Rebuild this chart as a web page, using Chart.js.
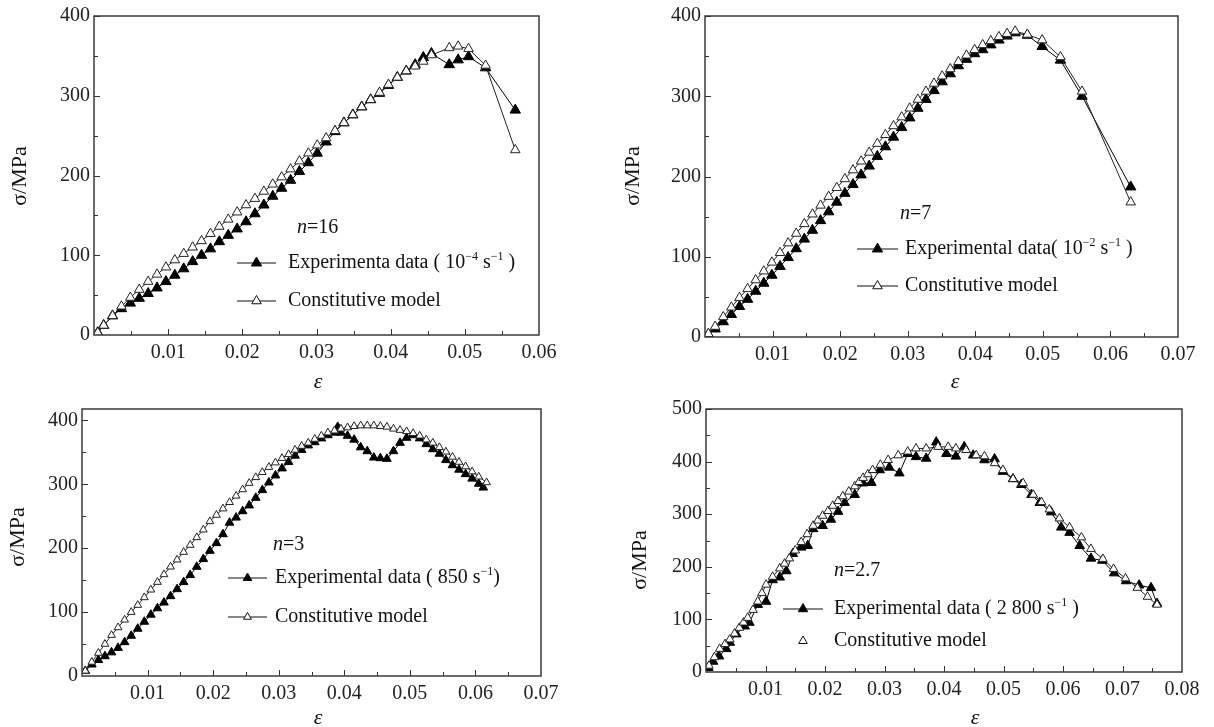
<!DOCTYPE html>
<html>
<head>
<meta charset="utf-8">
<script src="https://cdn.jsdelivr.net/npm/chart.js@4.4.1/dist/chart.umd.min.js"></script>
<style>
  html, body { margin: 0; padding: 0; background: #fff; }
  #wrap { position: relative; width: 1214px; height: 727px; overflow: hidden; }
  .panel { position: absolute; }
</style>
</head>
<body>
<div id="wrap">
  <div class="panel" style="left:0;top:0;width:607px;height:393px"><canvas id="c1"></canvas></div>
  <div class="panel" style="left:607px;top:0;width:607px;height:393px"><canvas id="c2"></canvas></div>
  <div class="panel" style="left:0;top:393px;width:607px;height:334px"><canvas id="c3"></canvas></div>
  <div class="panel" style="left:607px;top:393px;width:607px;height:334px"><canvas id="c4"></canvas></div>
</div>
<script>
// panel 1: n=16, 10^-4 s^-1
const p1Strain = [0.0005,0.0013,0.0025,0.0037,0.0049,0.0061,0.0073,0.0085,0.0097,0.0109,
  0.0121,0.0133,0.0145,0.0157,0.0169,0.0181,0.0193,0.0205,0.0217,0.0229,
  0.0241,0.0253,0.0265,0.0277,0.0289,0.0301,0.0313,0.0325,0.0337,0.0349,
  0.0361,0.0373,0.0385,0.0397,0.0409,0.0421,0.0433,0.0444,0.0455,0.0479,
  0.0491,0.0505,0.0528,0.0568];
const p1Exp = [3,12,24,33,40,46,52,59,67,75, 83,92,100,108,117,125,133,142,152,163,
  174,184,194,205,216,228,242,255,266,276, 286,295,303,313,323,331,339,348,353,339,
  345,349,335,282];
const p1Model = [3,12,24,36,47,57,67,76,85,94, 102,110,118,127,136,145,154,163,171,180,
  189,198,208,218,228,238,247,256,266,276, 286,295,304,314,323,331,337,343,351,360,
  362,359,338,232];

// panel 2: n=7, 10^-2 s^-1
const p2Strain = [0.0005,0.0015,0.0027,0.0039,0.0051,0.0063,0.0075,0.0087,0.0099,0.0111,
  0.0123,0.0135,0.0147,0.0159,0.0171,0.0183,0.0195,0.0207,0.0219,0.0231,
  0.0243,0.0255,0.0267,0.0279,0.0291,0.0303,0.0315,0.0327,0.0339,0.0351,
  0.0363,0.0375,0.0387,0.0399,0.0411,0.0423,0.0435,0.0447,0.0459,0.0477,
  0.0499,0.0526,0.0558,0.063];
const p2Exp = [3,10,19,28,38,47,57,67,77,88, 99,110,122,133,145,156,168,179,190,202,
  213,225,237,249,261,273,285,296,307,318, 328,338,346,353,358,364,370,375,379,376,
  362,345,300,187];
const p2Model = [4,13,25,37,49,60,71,82,93,105, 117,129,141,153,164,175,186,197,208,219,
  230,241,252,263,274,285,296,306,316,325, 334,343,351,358,364,369,374,378,381,377,
  370,349,306,168];

// panel 3: n=3, 850 s^-1
const p3ExpStrain = [0.0005,0.0015,0.0025,0.0035,0.0045,0.0055,0.0065,0.0075,0.0085,0.0095,
  0.0105,0.0115,0.0125,0.0135,0.0145,0.0155,0.0165,0.0175,0.0185,0.0195,
  0.0205,0.0215,0.0225,0.0235,0.0245,0.0255,0.0265,0.0275,0.0285,0.0295,
  0.0305,0.0315,0.0325,0.0335,0.0345,0.0355,0.0365,0.0375,0.0385,0.039,
  0.0395,0.0405,0.0415,0.0425,0.0435,0.0445,0.0455,0.0465,0.0475,0.0485,
  0.0495,0.0505,0.0515,0.0525,0.0535,0.0545,0.0555,0.0565,0.0575,0.0585,
  0.0595,0.0605,0.0612];
const p3Exp = [8,18,25,31,37,44,53,63,74,85, 96,106,115,125,136,147,158,171,183,196,
  208,222,240,248,258,267,279,291,303,314, 325,335,345,354,361,366,372,377,381,390,
  381,376,370,358,352,342,341,340,352,365, 373,377,372,363,355,348,338,330,323,316,
  309,301,295];
const p3ModelStrain = [0.0005,0.0015,0.0025,0.0035,0.0045,0.0055,0.0065,0.0075,0.0085,0.0095,
  0.0105,0.0115,0.0125,0.0135,0.0145,0.0155,0.0165,0.0175,0.0185,0.0195,
  0.0205,0.0215,0.0225,0.0235,0.0245,0.0255,0.0265,0.0275,0.0285,0.0295,
  0.0305,0.0315,0.0325,0.0335,0.0345,0.0355,0.0365,0.0375,0.0385,0.0395,
  0.0405,0.0415,0.0425,0.0435,0.0445,0.0455,0.0465,0.0475,0.0485,0.0495,
  0.0505,0.0515,0.0525,0.0535,0.0545,0.0555,0.0565,0.0575,0.0585,0.0595,
  0.0605,0.0617];
const p3Model = [8,22,36,50,64,76,88,100,111,123, 135,147,159,171,182,194,205,217,229,242,
  252,262,272,282,292,302,311,319,327,334, 341,347,354,360,365,371,376,381,384,387,
  389,391,392,392,392,391,390,387,385,383, 380,376,370,365,358,351,343,335,328,320,
  312,303];

// panel 4: n=2.7, 2 800 s^-1
const p4ExpStrain = [0.0004,0.0012,0.0022,0.0034,0.004,0.0051,0.0065,0.0073,0.0087,0.0101,
  0.0112,0.0124,0.0135,0.0146,0.016,0.0171,0.018,0.0196,0.021,0.0222,
  0.0233,0.025,0.0264,0.0278,0.0292,0.0308,0.0325,0.0339,0.0353,0.037,
  0.0387,0.0404,0.042,0.0434,0.0449,0.0468,0.0485,0.0499,0.0516,0.053,
  0.0547,0.0561,0.058,0.0597,0.0611,0.0628,0.0647,0.0666,0.0686,0.0706,
  0.0728,0.0748,0.0758];
const p4Exp = [8,20,30,44,56,72,87,94,128,134, 175,180,192,225,237,240,272,278,290,305,
  322,337,359,360,384,389,378,415,409,406, 437,415,410,428,412,403,405,381,367,356,
  337,322,304,275,265,240,216,212,188,173, 165,160,130];
const p4ModelStrain = [0.0005,0.0014,0.0023,0.0032,0.004,0.0048,0.0056,0.0063,0.007,0.0079,
  0.0087,0.0094,0.0101,0.0112,0.0124,0.0132,0.014,0.015,0.016,0.017,
  0.018,0.0188,0.0196,0.0205,0.0213,0.0222,0.023,0.024,0.025,0.0257,
  0.0264,0.0272,0.028,0.0293,0.0306,0.0323,0.0339,0.0353,0.037,0.039,
  0.0407,0.042,0.0437,0.0454,0.0468,0.0485,0.0499,0.0516,0.0533,0.055,
  0.0564,0.0577,0.0594,0.0611,0.0631,0.0647,0.0667,0.0685,0.0705,0.0725,
  0.0742,0.0758];
const p4Model = [12,28,44,53,62,73,84,94,103,118, 134,150,166,181,197,206,216,231,247,262,
  278,288,297,306,316,325,334,343,353,361, 369,376,384,394,403,412,419,425,425,428,
  428,425,422,412,410,397,384,367,359,337, 323,309,292,275,256,234,215,196,178,160,
  143,128];

// axis ranges and tick labels
const xMaxes = [0.06, 0.07, 0.07, 0.08];
const yMaxes = [400, 400, 418, 500];
const xTickLabels = [
  ['0.01', '0.02', '0.03', '0.04', '0.05', '0.06'],
  ['0.01', '0.02', '0.03', '0.04', '0.05', '0.06', '0.07'],
  ['0.01', '0.02', '0.03', '0.04', '0.05', '0.06', '0.07'],
  ['0.01', '0.02', '0.03', '0.04', '0.05', '0.06', '0.07', '0.08']
];
const yTickLabels = [
  ['0', '100', '200', '300', '400'],
  ['0', '100', '200', '300', '400'],
  ['0', '100', '200', '300', '400'],
  ['0', '100', '200', '300', '400', '500']
];
const nLabels = ['16', '7', '3', '2.7'];
const expLabels = [
  [['Experimenta data ( 10'], ['\u22124', 1], [' s'], ['\u22121', 1], [' )']],
  [['Experimental data( 10'], ['\u22122', 1], [' s'], ['\u22121', 1], [' )']],
  [['Experimental data ( 850 s'], ['\u22121', 1], [')']],
  [['Experimental data ( 2 800 s'], ['\u22121', 1], [' )']]
];
const modelLabel = 'Constitutive model';
const yTitle = '\u03c3/MPa';
const xTitle = '\u03b5';

const FONT = '"Liberation Serif", "DejaVu Serif", serif';
const TXT = 20;

// layout of each panel (canvas-local coordinates)
const panels = [
  { id: 'c1', w: 607, h: 393, area: [94, 14, 539, 335], r: 6, yT: [20, 176], xT: [318, 382],
    nPos: [297, 228], leg: { x0: 237, x1: 276, tx: 288, y1: 263, y2: 301, modelLine: true } },
  { id: 'c2', w: 607, h: 393, area: [98, 14, 571, 337], r: 6, yT: [26, 176], xT: [348, 382],
    nPos: [293, 214], leg: { x0: 250, x1: 291, tx: 298, y1: 249, y2: 286, modelLine: true } },
  { id: 'c3', w: 607, h: 334, area: [82, 4, 541, 283], r: 5, yT: [18, 144], xT: [318, 325],
    nPos: [273, 152], leg: { x0: 228, x1: 267, tx: 275, y1: 185, y2: 224, modelLine: true } },
  { id: 'c4', w: 607, h: 334, area: [99, 13, 575, 279], r: 5.5, yT: [33, 167], xT: [368, 325],
    nPos: [227, 178], leg: { x0: 176, x1: 216, tx: 227, y1: 216, y2: 248, modelLine: false } }
];

const series = [
  [p1Strain, p1Exp, p1Strain, p1Model],
  [p2Strain, p2Exp, p2Strain, p2Model],
  [p3ExpStrain, p3Exp, p3ModelStrain, p3Model],
  [p4ExpStrain, p4Exp, p4ModelStrain, p4Model]
];

function toXY(xs, ys) {
  return xs.map((x, i) => ({ x: x, y: ys[i] }));
}

function tri(ctx, x, y, r, fill) {
  ctx.beginPath();
  ctx.moveTo(x, y - r);
  ctx.lineTo(x + r * 0.866, y + r * 0.5);
  ctx.lineTo(x - r * 0.866, y + r * 0.5);
  ctx.closePath();
  ctx.fillStyle = fill;
  ctx.fill();
  ctx.strokeStyle = '#111';
  ctx.lineWidth = 1;
  ctx.stroke();
}

function rich(ctx, x, y, parts, size) {
  parts.forEach(p => {
    const sup = p[1];
    ctx.font = (sup ? Math.round(size * 0.62) : size) + 'px ' + FONT;
    ctx.fillText(p[0], x, sup ? y - size * 0.33 : y);
    x += ctx.measureText(p[0]).width;
  });
}

function makeDecor(k) {
  const P = panels[k];
  return {
    id: 'decor' + k,
    afterDraw(chart) {
      const ctx = chart.ctx, a = chart.chartArea;
      const xs = chart.scales.x, ys = chart.scales.y;
      ctx.save();
      // inward ticks on left and bottom axes
      ctx.strokeStyle = '#333';
      ctx.lineWidth = 1;
      ctx.beginPath();
      for (let v = 50; v <= yMaxes[k]; v += 50) {
        const y = Math.round(ys.getPixelForValue(v)) + 0.5;
        const len = v % 100 === 0 ? 6 : 4;
        ctx.moveTo(a.left, y); ctx.lineTo(a.left + len, y);
      }
      for (let i = 1; i * 0.005 < xMaxes[k] - 1e-9; i++) {
        const x = Math.round(xs.getPixelForValue(i * 0.005)) + 0.5;
        const len = i % 2 === 0 ? 6 : 4;
        ctx.moveTo(x, a.bottom); ctx.lineTo(x, a.bottom - len);
      }
      ctx.stroke();
      // frame
      ctx.strokeStyle = '#3a3a3a';
      ctx.lineWidth = 1.5;
      ctx.strokeRect(a.left, a.top, a.right - a.left, a.bottom - a.top);

      ctx.fillStyle = '#111';
      ctx.textBaseline = 'middle';
      // axis titles
      ctx.save();
      ctx.translate(P.yT[0], P.yT[1]);
      ctx.rotate(-Math.PI / 2);
      ctx.textAlign = 'center';
      ctx.font = '22px ' + FONT;
      ctx.fillText(yTitle, 0, 0);
      ctx.restore();
      ctx.textAlign = 'center';
      ctx.font = 'italic 22px ' + FONT;
      ctx.fillText(xTitle, P.xT[0], P.xT[1]);

      // n = ...
      ctx.textAlign = 'left';
      ctx.font = 'italic ' + TXT + 'px ' + FONT;
      ctx.fillText('n', P.nPos[0], P.nPos[1]);
      const nw = ctx.measureText('n').width;
      ctx.font = TXT + 'px ' + FONT;
      ctx.fillText('=' + nLabels[k], P.nPos[0] + nw, P.nPos[1]);

      // legend
      const L = P.leg, mx = (L.x0 + L.x1) / 2;
      ctx.strokeStyle = '#111';
      ctx.lineWidth = 1.2;
      ctx.beginPath();
      ctx.moveTo(L.x0, L.y1); ctx.lineTo(L.x1, L.y1);
      if (L.modelLine) { ctx.moveTo(L.x0, L.y2); ctx.lineTo(L.x1, L.y2); }
      ctx.stroke();
      tri(ctx, mx, L.y1, P.r, '#000');
      tri(ctx, mx, L.y2, P.r - 0.5, '#fff');
      ctx.fillStyle = '#111';
      rich(ctx, L.tx, L.y1, expLabels[k], TXT);
      ctx.font = TXT + 'px ' + FONT;
      ctx.fillText(modelLabel, L.tx, L.y2);
      ctx.restore();
    }
  };
}

function makeChart(k) {
  const P = panels[k], A = P.area, s = series[k];
  return new Chart(document.getElementById(P.id), {
    type: 'line',
    data: {
      datasets: [
        {
          label: modelLabel, data: toXY(s[2], s[3]), order: 0,
          borderColor: '#222', borderWidth: 1, tension: 0,
          pointStyle: 'triangle', pointRadius: P.r - 0.5,
          pointBackgroundColor: '#fff', pointBorderColor: '#222', pointBorderWidth: 1
        },
        {
          label: 'Experimental data', data: toXY(s[0], s[1]), order: 1,
          borderColor: '#000', borderWidth: 1, tension: 0,
          pointStyle: 'triangle', pointRadius: P.r,
          pointBackgroundColor: '#000', pointBorderColor: '#000', pointBorderWidth: 1
        }
      ]
    },
    options: {
      responsive: true,
      maintainAspectRatio: false,
      animation: false,
      layout: { padding: { left: 0, top: A[1], right: P.w - A[2], bottom: 0 } },
      plugins: { legend: { display: false }, tooltip: { enabled: false } },
      scales: {
        x: {
          type: 'linear', min: 0, max: xMaxes[k],
          afterFit: sc => { sc.height = P.h - A[3]; },
          afterBuildTicks: sc => { sc.ticks = xTickLabels[k].map(t => ({ value: +t })); },
          grid: { display: false, drawTicks: false },
          border: { display: false },
          ticks: {
            padding: 6, color: '#222', maxRotation: 0, autoSkip: false,
            font: { family: FONT, size: TXT },
            callback: (v, i) => xTickLabels[k][i]
          }
        },
        y: {
          type: 'linear', min: 0, max: yMaxes[k],
          afterFit: sc => { sc.width = A[0]; },
          afterBuildTicks: sc => { sc.ticks = yTickLabels[k].map(t => ({ value: +t })); },
          grid: { display: false, drawTicks: false },
          border: { display: false },
          ticks: {
            padding: 4, color: '#222', autoSkip: false,
            font: { family: FONT, size: TXT },
            callback: (v, i) => yTickLabels[k][i]
          }
        }
      }
    },
    plugins: [makeDecor(k)]
  });
}

panels.forEach((p, k) => makeChart(k));
</script>
</body>
</html>
